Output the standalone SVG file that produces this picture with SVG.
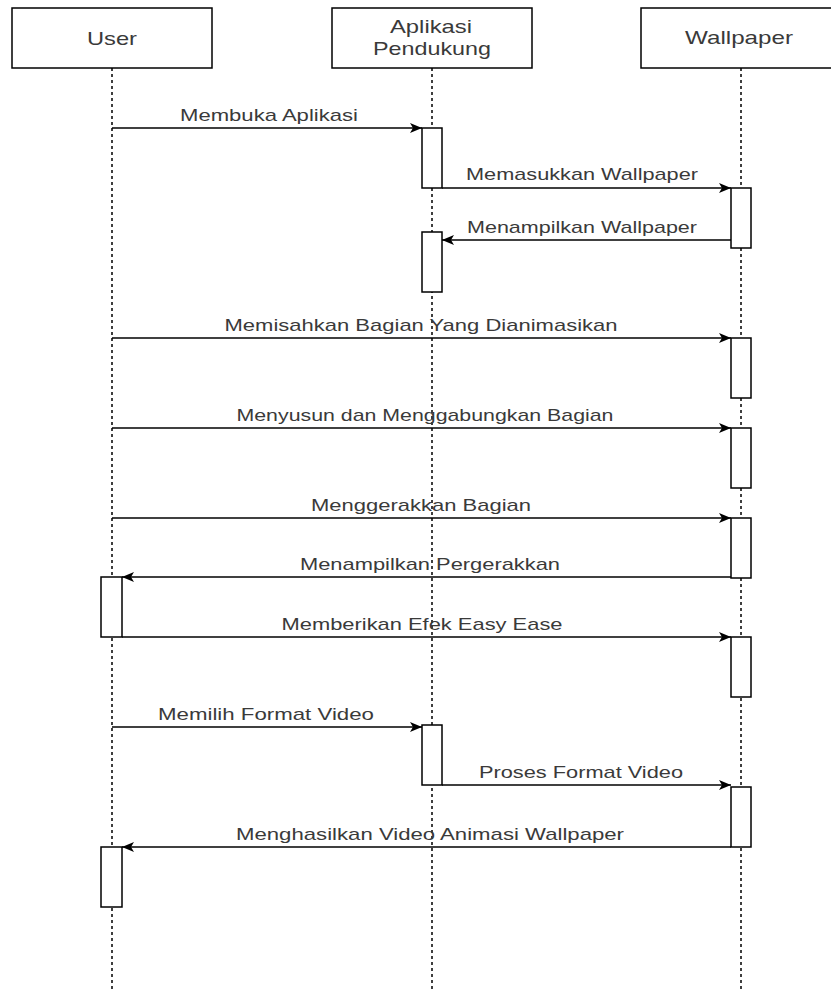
<svg xmlns="http://www.w3.org/2000/svg" width="831" height="992" viewBox="0 0 831 992">
<style>
.box{fill:#fff;stroke:#000;stroke-width:1.5}
.act{fill:#fff;stroke:#000;stroke-width:1.5}
.life{stroke:#000;stroke-width:1.5;stroke-dasharray:3 3;fill:none}
.msg{stroke:#000;stroke-width:1.3;fill:none;marker-end:url(#ah)}
.hd{font-family:"Liberation Sans",Arial,sans-serif;font-size:19px;fill:#3a3a3a;text-anchor:middle}
.lb{font-family:"Liberation Sans",Arial,sans-serif;font-size:17px;fill:#3a3a3a;text-anchor:middle}
</style>
<defs>
<marker id="ah" viewBox="0 0 12 10" refX="12" refY="5" markerWidth="12" markerHeight="10" markerUnits="userSpaceOnUse" orient="auto">
<path d="M0,0 L12,5 L0,10 L3,5 Z" fill="#000"/>
</marker>
</defs>
<rect width="831" height="992" fill="#fff"/>
<g id="lifelines">
<line class="life" x1="112" y1="68" x2="112" y2="992"/>
<line class="life" x1="432" y1="68" x2="432" y2="992"/>
<line class="life" x1="741" y1="68" x2="741" y2="992"/>
</g>
<g id="user">
<rect class="box" x="12" y="8" width="200" height="60"/>
<text class="hd" x="112" y="45" textLength="50" lengthAdjust="spacingAndGlyphs">User</text>
</g>
<g id="aplikasi">
<rect class="box" x="332" y="8" width="200" height="60"/>
<text class="hd" x="431" y="33" textLength="82" lengthAdjust="spacingAndGlyphs">Aplikasi</text>
<text class="hd" x="432" y="55" textLength="118" lengthAdjust="spacingAndGlyphs">Pendukung</text>
</g>
<g id="wallpaper">
<rect class="box" x="641" y="8" width="200" height="60"/>
<text class="hd" x="739" y="44" textLength="108" lengthAdjust="spacingAndGlyphs">Wallpaper</text>
</g>
<g id="activations">
<rect class="act" x="422" y="128" width="20" height="60"/>
<rect class="act" x="731" y="188" width="20" height="60"/>
<rect class="act" x="422" y="232" width="20" height="60"/>
<rect class="act" x="731" y="338" width="20" height="60"/>
<rect class="act" x="731" y="428" width="20" height="60"/>
<rect class="act" x="731" y="518" width="20" height="60"/>
<rect class="act" x="101" y="577" width="21" height="60"/>
<rect class="act" x="731" y="637" width="20" height="60"/>
<rect class="act" x="422" y="725" width="20" height="60"/>
<rect class="act" x="731" y="787" width="20" height="60"/>
<rect class="act" x="101" y="847" width="21" height="60"/>
</g>
<g id="connectors">
<line class="msg" x1="112" y1="128" x2="422" y2="128"/>
<line class="msg" x1="442" y1="188" x2="731" y2="188"/>
<line class="msg" x1="731" y1="240" x2="442" y2="240"/>
<line class="msg" x1="112" y1="338" x2="731" y2="338"/>
<line class="msg" x1="112" y1="428" x2="731" y2="428"/>
<line class="msg" x1="112" y1="518" x2="731" y2="518"/>
<line class="msg" x1="731" y1="577" x2="122" y2="577"/>
<line class="msg" x1="122" y1="637" x2="731" y2="637"/>
<line class="msg" x1="112" y1="727" x2="422" y2="727"/>
<line class="msg" x1="442" y1="785" x2="731" y2="785"/>
<line class="msg" x1="731" y1="847" x2="122" y2="847"/>
</g>
<g id="labels">
<text class="lb" x="269" y="121" textLength="178" lengthAdjust="spacingAndGlyphs">Membuka Aplikasi</text>
<text class="lb" x="582" y="180" textLength="232" lengthAdjust="spacingAndGlyphs">Memasukkan Wallpaper</text>
<text class="lb" x="582" y="233" textLength="230" lengthAdjust="spacingAndGlyphs">Menampilkan Wallpaper</text>
<text class="lb" x="421" y="331" textLength="393" lengthAdjust="spacingAndGlyphs">Memisahkan Bagian Yang Dianimasikan</text>
<text class="lb" x="425" y="421" textLength="377" lengthAdjust="spacingAndGlyphs">Menyusun dan Menggabungkan Bagian</text>
<text class="lb" x="421" y="511" textLength="220" lengthAdjust="spacingAndGlyphs">Menggerakkan Bagian</text>
<text class="lb" x="430" y="570" textLength="260" lengthAdjust="spacingAndGlyphs">Menampilkan Pergerakkan</text>
<text class="lb" x="422" y="630" textLength="281" lengthAdjust="spacingAndGlyphs">Memberikan Efek Easy Ease</text>
<text class="lb" x="266" y="720" textLength="216" lengthAdjust="spacingAndGlyphs">Memilih Format Video</text>
<text class="lb" x="581" y="778" textLength="204" lengthAdjust="spacingAndGlyphs">Proses Format Video</text>
<text class="lb" x="430" y="840" textLength="388" lengthAdjust="spacingAndGlyphs">Menghasilkan Video Animasi Wallpaper</text>
</g>
</svg>
